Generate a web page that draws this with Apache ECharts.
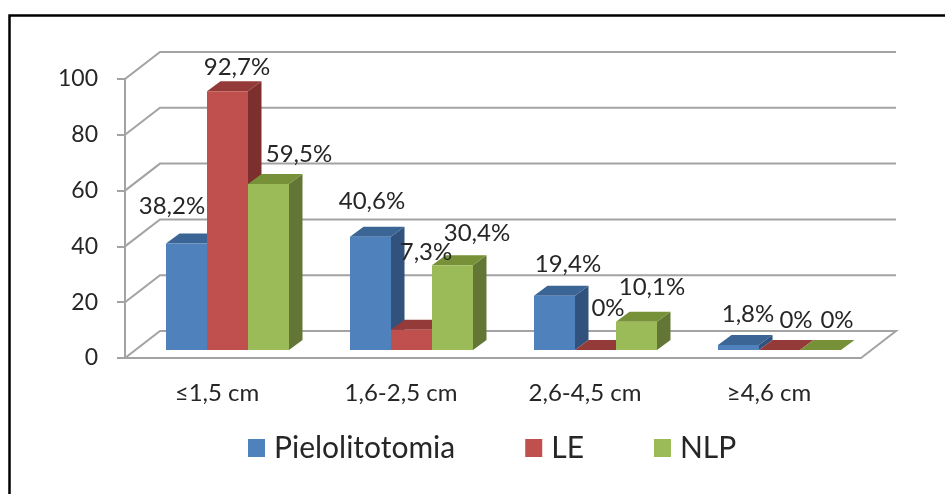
<!DOCTYPE html>
<html>
<head>
<meta charset="utf-8">
<style>html,body{margin:0;padding:0;background:#fff}#chart{width:945px;height:494px}</style>
<script src="https://cdn.jsdelivr.net/npm/echarts@6/dist/echarts.min.js"></script>
</head>
<body>
<div id="chart"></div>
<script>
const categories = ['≤1,5 cm', '1,6-2,5 cm', '2,6-4,5 cm', '≥4,6 cm'];
const pielolitotomia = [38.2, 40.6, 19.4, 1.8];
const le = [92.7, 7.3, 0, 0];
const nlp = [59.5, 30.4, 10.1, 0];
const valueTicks = [0, 20, 40, 60, 80, 100];

// Fill colours per series: front, top and side faces of the columns
const palette = [
  { name: 'Pielolitotomia', values: pielolitotomia, front: '#4F81BD', top: '#3A6594', side: '#30527C' },
  { name: 'LE', values: le, front: '#C0504D', top: '#943B39', side: '#7C2F2D' },
  { name: 'NLP', values: nlp, front: '#9BBB59', top: '#779139', side: '#647635' }
];

// Oblique projection of the box: wall depth and column depth, in pixels
const WALL_DX = 35, WALL_DY = -27;
const BAR_DX = 13.5, BAR_DY = -10;
const FLOOR_SHIFT_X = 10.5, FLOOR_SHIFT_Y = -8;
const BAR_BAND_RATIO = 0.2228;
const GREY = '#A3A3A3';

// Hand-placed data label offsets from the centre of each column's top edge, per series then category
const labelNudge = [
  [[-14.5, -37], [1.5, -35], [13.5, -32], [9.5, -31]],
  [[9.5, -24], [14.5, -77], [12.5, -42], [16.5, -30]],
  [[30.5, -30], [24.5, -32], [15.5, -35], [16.5, -30]]
];

const pct = v => String(v).replace('.', ',') + '%';

function barGeometry(api, seriesIndex, cat, value) {
  const band = api.size([1, 0])[0];
  const cx = api.coord([cat, 0])[0];
  const w = band * BAR_BAND_RATIO;
  const x = cx + FLOOR_SHIFT_X + (seriesIndex - 1.5) * w;
  const base = api.coord([cat, 0])[1] + FLOOR_SHIFT_Y;
  const top = api.coord([cat, value])[1] + FLOOR_SHIFT_Y;
  return { x, w, base, top };
}

function renderColumn(seriesIndex) {
  const c = palette[seriesIndex];
  return function (params, api) {
    const g = barGeometry(api, seriesIndex, api.value(0), api.value(1));
    const r = g.x + g.w;
    const children = [
      { type: 'polygon', shape: { points: [[r, g.top], [r + BAR_DX, g.top + BAR_DY], [r + BAR_DX, g.base + BAR_DY], [r, g.base]] }, style: { fill: c.side } },
      { type: 'polygon', shape: { points: [[g.x, g.top], [g.x + BAR_DX, g.top + BAR_DY], [r + BAR_DX, g.top + BAR_DY], [r, g.top]] }, style: { fill: c.top } }
    ];
    if (g.base - g.top > 0) {
      children.push({ type: 'rect', shape: { x: g.x, y: g.top, width: g.w, height: g.base - g.top }, style: { fill: c.front } });
    }
    return { type: 'group', children };
  };
}

// Side and back walls: one bent line for every value tick, plus the right edge of the floor
function renderWall(params, api) {
  const v = api.value(0);
  const lastCat = categories.length - 1;
  const halfBand = api.size([1, 0])[0] / 2;
  const left = api.coord([0, v])[0] - halfBand;
  const right = api.coord([lastCat, v])[0] + halfBand;
  const y = api.coord([0, v])[1];
  const points = [[left, y], [left + WALL_DX, y + WALL_DY], [right + WALL_DX, y + WALL_DY]];
  if (v === 0) points.push([right, y]);
  return { type: 'polyline', shape: { points }, style: { stroke: GREY, lineWidth: 2, fill: null } };
}

function renderLabel(params, api) {
  const s = api.value(2), cat = api.value(0), val = api.value(1);
  const g = barGeometry(api, s, cat, val);
  const n = labelNudge[s][cat];
  return {
    type: 'text',
    x: g.x + g.w / 2 + n[0],
    y: g.top + n[1],
    style: { text: pct(val), fill: '#262626', font: '24px Lato', align: 'center', verticalAlign: 'middle' }
  };
}

const labelData = [];
palette.forEach((c, s) => c.values.forEach((v, i) => labelData.push([i, v, s])));

const chart = echarts.init(document.getElementById('chart'), null, { renderer: 'canvas' });
chart.setOption({
  animation: false,
  backgroundColor: '#ffffff',
  grid: { left: 125, right: 84, top: 79, bottom: 136 },
  graphic: [{
    type: 'polyline',
    shape: { points: [[9.5, 494], [9.5, 15.5], [945, 15.5]] },
    style: { stroke: '#000', lineWidth: 2.5, fill: null },
    z: 0
  }],
  legend: {
    left: 248, top: 433, padding: 0,
    itemWidth: 17, itemHeight: 18, itemGap: 70,
    icon: 'rect',
    data: palette.map(c => c.name),
    textStyle: { fontFamily: 'Lato', fontSize: 30, color: '#262626', padding: [0, 0, 0, 4] }
  },
  xAxis: {
    type: 'category',
    data: categories,
    axisLine: { lineStyle: { color: GREY, width: 2 } },
    axisTick: { length: 8, lineStyle: { color: GREY, width: 2 } },
    axisLabel: { fontFamily: 'Lato', fontSize: 24, color: '#262626', margin: 23 },
    splitLine: { show: false }
  },
  yAxis: {
    type: 'value',
    min: 0, max: 100, interval: 20,
    axisLine: { show: true, lineStyle: { color: GREY, width: 2 } },
    axisTick: { show: true, length: 8, lineStyle: { color: GREY, width: 2 } },
    axisLabel: { fontFamily: 'Lato', fontSize: 23, color: '#262626', margin: 27, padding: [3, 0, 0, 0] },
    splitLine: { show: false }
  },
  series: [
    { type: 'custom', name: 'walls', coordinateSystem: 'cartesian2d', renderItem: renderWall,
      data: valueTicks.map(v => [v]), encode: { y: 0 }, silent: true, z: 1 }
  ].concat(palette.map((c, s) => ({
    type: 'custom',
    name: c.name,
    coordinateSystem: 'cartesian2d',
    renderItem: renderColumn(s),
    itemStyle: { color: c.front },
    data: c.values.map((v, i) => [i, v]),
    encode: { x: 0, y: 1 },
    z: 2 + s
  }))).concat([
    { type: 'custom', name: 'labels', coordinateSystem: 'cartesian2d', renderItem: renderLabel,
      data: labelData, encode: { x: 0, y: 1 }, silent: true, z: 10 }
  ])
});
</script>
</body>
</html>
